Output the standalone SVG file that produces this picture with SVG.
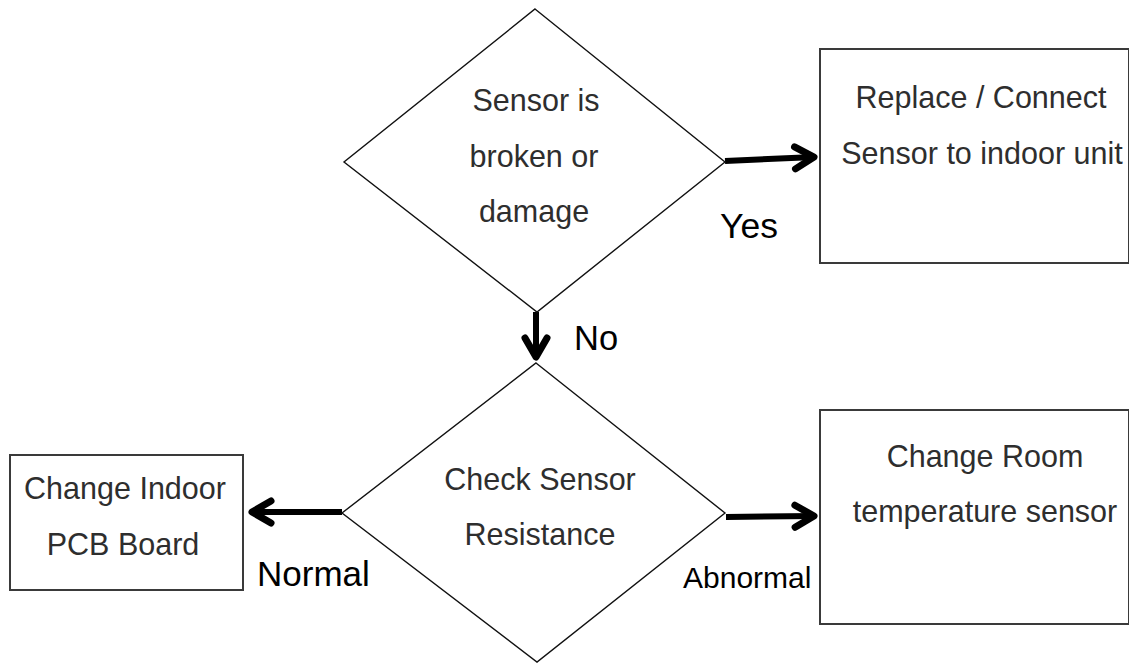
<svg xmlns="http://www.w3.org/2000/svg" width="1129" height="663" viewBox="0 0 1129 663">
<style>
.dia{fill:#fff;stroke:#111;stroke-width:1.4}
.box{fill:#fff;stroke:#3a3a3a;stroke-width:2}
.t{font-family:"Liberation Sans",Arial,sans-serif;font-size:30.5px;fill:#2e2e2e;text-anchor:middle}
.lbl{font-family:"Liberation Sans",Arial,sans-serif;fill:#000}
.conn{fill:none;stroke:#000;stroke-width:6}
</style>
<defs>
<marker id="chev" markerUnits="userSpaceOnUse" markerWidth="40" markerHeight="40" refX="0" refY="0" orient="auto" overflow="visible">
<path d="M-20,-11 L-1,0 L-20,11" fill="none" stroke="#000" stroke-width="7" stroke-linecap="round" stroke-linejoin="round"/>
</marker>
</defs>
<rect width="1129" height="663" fill="#fff"/>
<g id="connectors">
<path class="conn" d="M725,161 L815,157" marker-end="url(#chev)"/>
<path class="conn" d="M536,312 L536,358" marker-end="url(#chev)"/>
<path class="conn" d="M342,512 L251,512" marker-end="url(#chev)"/>
<path class="conn" d="M726,517 L815,516" marker-end="url(#chev)"/>
<text class="lbl" x="720" y="238" font-size="35.5">Yes</text>
<text class="lbl" x="574" y="350" font-size="34.5">No</text>
<text class="lbl" x="257" y="586" font-size="35">Normal</text>
<text class="lbl" x="683" y="588" font-size="30">Abnormal</text>
</g>
<g id="decision1">
<polygon class="dia" points="535,9 725,162 537,312 344,162"/>
<text class="t" x="536" y="111">Sensor is</text>
<text class="t" x="534" y="167">broken or</text>
<text class="t" x="534" y="222">damage</text>
</g>
<g id="replace">
<rect class="box" x="820" y="49" width="309" height="214"/>
<text class="t" x="981" y="108">Replace / Connect</text>
<text class="t" x="982" y="164">Sensor to indoor unit</text>
</g>
<g id="decision2">
<polygon class="dia" points="536,363 725,513 537,662 342,513"/>
<text class="t" x="540" y="490">Check Sensor</text>
<text class="t" x="540" y="545">Resistance</text>
</g>
<g id="pcb">
<rect class="box" x="10" y="455" width="233" height="135"/>
<text class="t" x="125" y="499">Change Indoor</text>
<text class="t" x="123" y="555">PCB Board</text>
</g>
<g id="roomsensor">
<rect class="box" x="820" y="410" width="309" height="214"/>
<text class="t" x="985" y="467">Change Room</text>
<text class="t" x="985" y="522">temperature sensor</text>
</g>
</svg>
